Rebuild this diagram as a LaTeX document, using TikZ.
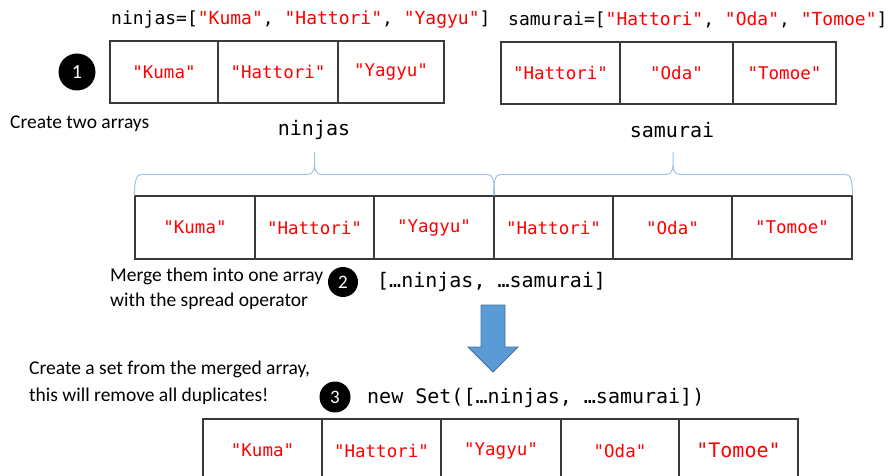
\documentclass[tikz,border=0pt]{standalone}
\usepackage{fontspec}
\setmainfont{Carlito}
\setmonofont{DejaVu Sans Mono}
\usetikzlibrary{calc}

\definecolor{codered}{HTML}{FF0000}
\definecolor{linegray}{HTML}{3A3A3A}
\definecolor{bracecol}{HTML}{9DC3E6}
\definecolor{arrowfill}{HTML}{5B9BD5}
\definecolor{arrowline}{HTML}{41719C}

\newcommand\arrfont{\ttfamily\fontsize{17.5pt}{20pt}\selectfont}
\newcommand\codefont{\ttfamily\fontsize{18pt}{21pt}\selectfont}
\newcommand\labfont{\ttfamily\fontsize{20pt}{23pt}\selectfont}
\newcommand\notefont{\fontsize{19.5pt}{24.5pt}\selectfont}
\newcommand\numfont{\fontsize{20pt}{22pt}\selectfont}
\newcommand\red[1]{\textcolor{codered}{#1}}

\tikzset{
  cell/.style={draw=linegray, line width=1.1pt, inner sep=0pt,
    minimum height=62pt, font=\arrfont, text=codered},
  cellw/.style={cell, minimum width=#1},
  stepnum/.style={circle, fill=black, text=white, inner sep=0pt,
    minimum size=#1, font=\numfont},
  note/.style={anchor=west, inner sep=0pt, font=\notefont, align=left},
  code/.style={anchor=west, inner sep=0pt, font=\codefont},
  lab/.style={inner sep=0pt, font=\labfont},
  bracepath/.style={draw=bracecol, line width=1pt},
  bluearrow/.style={fill=arrowfill, draw=arrowline, line width=0.8pt, line join=miter}
}

\begin{document}
\begin{tikzpicture}[x=1pt, y=-1pt]
  \useasboundingbox (0,0) rectangle (891,476);
  \clip (0,0) rectangle (891,476);

  % source code of the two arrays
  \node[code] (c1) at (111,20) {ninjas=[\red{"Kuma"}, \red{"Hattori"}, \red{"Yagyu"}]};
  \node[code] (c2) at (508,20) {samurai=[\red{"Hattori"}, \red{"Oda"}, \red{"Tomoe"}]};

  % step 1: the two arrays
  \node[stepnum=37pt] (s1) at (77,72) {1};
  \node[cellw=108pt] (a1) at (164,72) {"Kuma"};
  \node[cellw=120pt] (a2) at (278,72) {"Hattori"};
  \node[cellw=106pt] (a3) at (391,72) {"Yagyu"};

  \node[cellw=119pt] (b1) at (560.5,73) {"Hattori"};
  \node[cellw=113pt] (b2) at (676.5,73) {"Oda"};
  \node[cellw=103pt] (b3) at (784.5,73) {"Tomoe"};

  \node[note] (t1) at (10,124) {Create two arrays};

  % merged array
  \node[cellw=120pt, minimum height=63pt] (m1) at (195,227.5) {"Kuma"};
  \node[cellw=119pt, minimum height=63pt] (m2) at (314.5,227.5) {"Hattori"};
  \node[cellw=120pt, minimum height=63pt] (m3) at (434,227.5) {"Yagyu"};
  \node[cellw=119pt, minimum height=63pt] (m4) at (553.5,227.5) {"Hattori"};
  \node[cellw=119pt, minimum height=63pt] (m5) at (672.5,227.5) {"Oda"};
  \node[cellw=120pt, minimum height=63pt] (m6) at (792,227.5) {"Tomoe"};

  % braces over the two halves
  \coordinate (bl) at (m1.north west);
  \coordinate (br) at (m3.north east);
  \coordinate (bm) at ($(bl)!.5!(br)$);
  \draw[bracepath] (bl) .. controls +(0,-15) and +(-5,0) .. ($(bl)+(7,-21)$)
     -- ($(bm)+(-7,-21)$) .. controls +(5,0) and +(0,6) .. ($(bm)+(0,-31)$)
     -- ($(bm)+(0,-43)$)
     ($(bm)+(0,-31)$) .. controls +(0,6) and +(-5,0) .. ($(bm)+(7,-21)$)
     -- ($(br)+(-7,-21)$) .. controls +(5,0) and +(0,-15) .. (br);
  \coordinate (cl) at (m4.north west);
  \coordinate (cr) at (m6.north east);
  \coordinate (cm) at ($(cl)!.5!(cr)$);
  \draw[bracepath] (cl) .. controls +(0,-15) and +(-5,0) .. ($(cl)+(7,-21)$)
     -- ($(cm)+(-7,-21)$) .. controls +(5,0) and +(0,6) .. ($(cm)+(0,-31)$)
     -- ($(cm)+(0,-43)$)
     ($(cm)+(0,-31)$) .. controls +(0,6) and +(-5,0) .. ($(cm)+(7,-21)$)
     -- ($(cr)+(-7,-21)$) .. controls +(5,0) and +(0,-15) .. (cr);

  \node[lab] (ln) at (314,130) {ninjas};
  \node[lab] (ls) at (672,130) {samurai};

  % step 2: spread
  \node[note] (t2) at (110,289) {Merge them into one array\\with the spread operator};
  \node[stepnum=30pt, font=\fontsize{19pt}{21pt}\selectfont] (s2) at (343,282) {2};
  \node[code, font=\labfont] (c3) at (377,282) {[…ninjas, …samurai]};

  % arrow down
  \draw[bluearrow] (481,305) -- (505,305) -- (505,347) -- (518,347) -- (493,372)
     -- (468,347) -- (481,347) -- cycle;

  % step 3: set
  \node[note, font=\fontsize{19.5pt}{26.5pt}\selectfont] (t3) at (29,383)
     {Create a set from the merged array,\\this will remove all duplicates!};
  \node[stepnum=31pt, font=\fontsize{19pt}{21pt}\selectfont] (s3) at (335,397) {3};
  \node[code, font=\labfont] (c4) at (367,398) {new Set([…ninjas, …samurai])};

  \node[cellw=119pt, minimum height=63pt] (r1) at (262.5,450.5) {"Kuma"};
  \node[cellw=119pt, minimum height=63pt] (r2) at (381.5,450.5) {"Hattori"};
  \node[cellw=120pt, minimum height=63pt] (r3) at (501,450.5) {"Yagyu"};
  \node[cellw=118pt, minimum height=63pt] (r4) at (620,450.5) {"Oda"};
  \node[cellw=119pt, minimum height=63pt, font=\labfont] (r5) at (738.5,450.5) {"Tomoe"};
\end{tikzpicture}
\end{document}
